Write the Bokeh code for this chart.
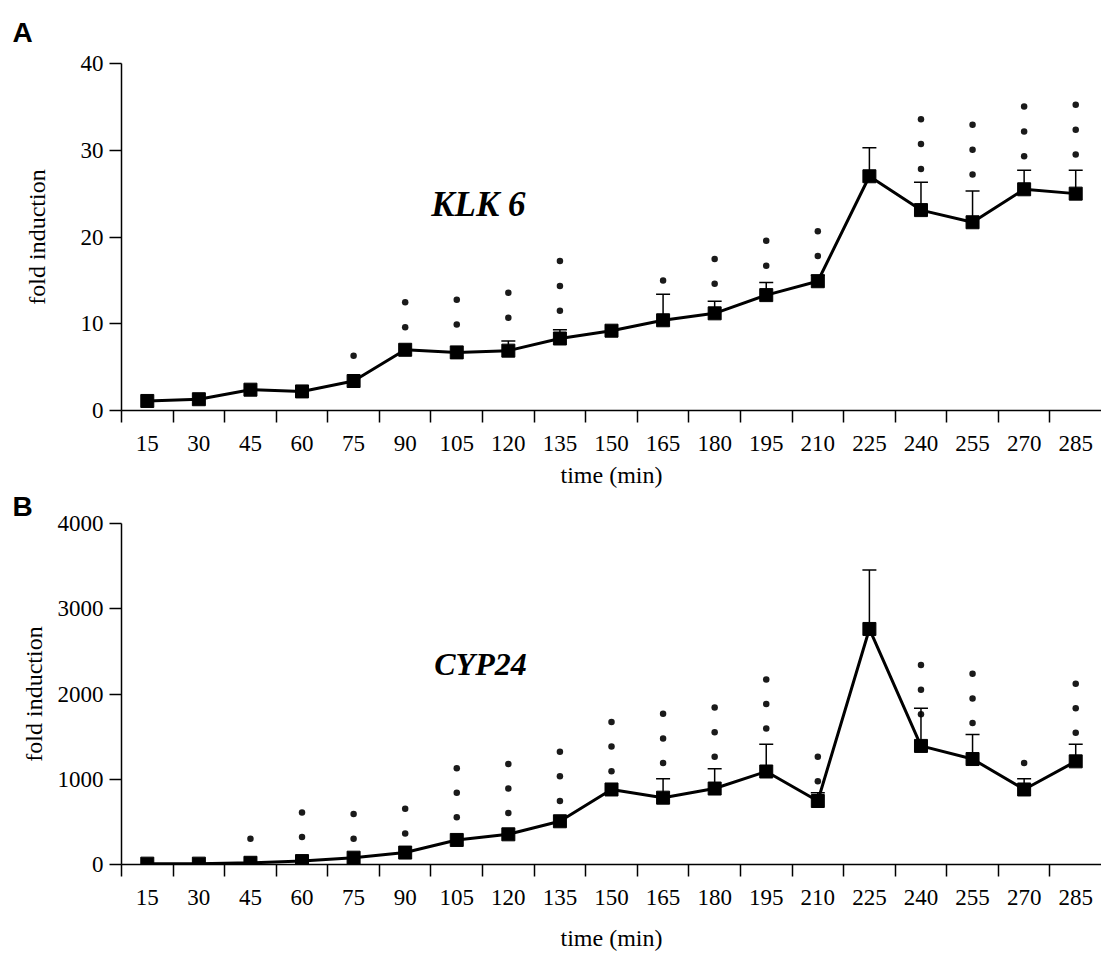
from bokeh.plotting import figure
from bokeh.models import Range1d, FixedTicker, Whisker, TeeHead, Label, ColumnDataSource, Title
from bokeh.layouts import column
from bokeh.embed import file_html
from bokeh.resources import INLINE

# ---------------- data ----------------
times = [15, 30, 45, 60, 75, 90, 105, 120, 135, 150, 165, 180, 195, 210, 225, 240, 255, 270, 285]
time_labels = [str(t) for t in times]

klk6_values = [1.1, 1.3, 2.4, 2.2, 3.4, 7.0, 6.7, 6.9, 8.3, 9.2, 10.4, 11.2, 13.3, 14.9, 27.0, 23.1, 21.7, 25.5, 25.0]
klk6_err = [0, 0, 0, 0, 0, 0, 0, 1.1, 1.0, 0, 3.0, 1.4, 1.45, 0.7, 3.3, 3.2, 3.6, 2.2, 2.7]
klk6_star_count = [0, 0, 0, 0, 1, 2, 2, 2, 3, 0, 1, 2, 2, 2, 0, 3, 3, 3, 3]
klk6_star_first = [0, 0, 0, 0, 6.3, 9.6, 9.9, 10.7, 11.5, 0, 15.0, 14.6, 16.7, 17.8, 0, 27.85, 27.2, 29.3, 29.5]
klk6_yticks = [0, 10, 20, 30, 40]

cyp24_values = [10, 10, 20, 40, 80, 140, 288, 354, 507, 880, 784, 891, 1091, 745, 2763, 1391, 1237, 880, 1210]
cyp24_err = [0, 0, 0, 0, 0, 0, 0, 0, 0, 0, 222, 231, 319, 96, 692, 442, 288, 126, 200]
cyp24_star_count = [0, 0, 1, 2, 2, 2, 3, 3, 3, 3, 3, 3, 3, 2, 0, 3, 3, 1, 3]
cyp24_star_first = [0, 0, 303, 323, 303, 365, 553, 603, 746, 1095, 1191, 1264, 1594, 976, 0, 1763, 1660, 1191, 1545]
cyp24_yticks = [0, 1000, 2000, 3000, 4000]

SERIF = "Liberation Serif"
SANS = "Liberation Sans"


def make_panel(values, errs, star_count, star_first, yticks, gene, gene_pos, gene_size, letter,
               height, border_top, border_bottom, ylabel_standoff, xlabel_standoff, letter_standoff):
    ymax = yticks[-1]
    frame_h = height - border_top - border_bottom
    step = 25.0 * ymax / frame_h  # dot spacing of 25 px in data units
    half = (times[1] - times[0]) / 2.0

    p = figure(width=1101, height=height, output_backend="svg", toolbar_location=None,
               x_range=Range1d(times[0] - half, times[-1] + half),
               y_range=Range1d(0, ymax),
               min_border_left=121, min_border_right=0,
               min_border_top=border_top, min_border_bottom=border_bottom)
    p.outline_line_color = None
    p.xgrid.visible = False
    p.ygrid.visible = False
    p.background_fill_color = "white"
    p.border_fill_color = "white"

    # panel letter as a left-aligned title shifted to the page's left edge
    p.title = Title(text=letter, align="left", offset=-109, vertical_align="top",
                    standoff=letter_standoff, text_font=SANS, text_font_style="bold",
                    text_font_size="28px", text_color="black")

    # x axis: labels at centers, ticks at boundaries (minor ticks)
    xa = p.xaxis[0]
    xa.ticker = FixedTicker(ticks=times,
                            minor_ticks=[t - half for t in times])
    xa.major_label_overrides = {t: lab for t, lab in zip(times, time_labels)}
    xa.major_tick_out = 0
    xa.major_tick_in = 0
    xa.minor_tick_out = 12
    xa.minor_tick_in = 0
    xa.minor_tick_line_width = 1.5
    xa.axis_line_width = 1.5
    xa.major_label_text_font = SERIF
    xa.major_label_text_font_size = "23px"
    xa.major_label_text_color = "black"
    xa.major_label_standoff = 13
    xa.axis_label = "time (min)"
    xa.axis_label_text_font = SERIF
    xa.axis_label_text_font_size = "24px"
    xa.axis_label_text_font_style = "normal"
    xa.axis_label_text_color = "black"
    xa.axis_label_standoff = xlabel_standoff

    ya = p.yaxis[0]
    ya.ticker = FixedTicker(ticks=yticks, minor_ticks=[])
    ya.major_tick_out = 12
    ya.major_tick_in = 0
    ya.major_tick_line_width = 1.5
    ya.minor_tick_out = 0
    ya.minor_tick_in = 0
    ya.axis_line_width = 1.5
    ya.major_label_text_font = SERIF
    ya.major_label_text_font_size = "23px"
    ya.major_label_text_color = "black"
    ya.major_label_standoff = 6
    ya.axis_label = "fold induction"
    ya.axis_label_text_font = SERIF
    ya.axis_label_text_font_size = "24px"
    ya.axis_label_text_font_style = "normal"
    ya.axis_label_text_color = "black"
    ya.axis_label_standoff = ylabel_standoff

    # error bars (upper only)
    ex = [t for t, e in zip(times, errs) if e > 0]
    ev = [v for v, e in zip(values, errs) if e > 0]
    eu = [v + e for v, e in zip(values, errs) if e > 0]
    esrc = ColumnDataSource(data=dict(x=ex, lower=ev, upper=eu))
    w = Whisker(source=esrc, base="x", lower="lower", upper="upper",
                line_color="black", line_width=1.5, level="glyph",
                upper_head=TeeHead(size=14, line_width=1.5, line_color="black"),
                lower_head=None)
    p.add_layout(w)

    # main line and square markers
    p.line(times, values, line_color="black", line_width=3)
    p.scatter(times, values, marker="square", size=13, fill_color="black", line_color="black")

    # significance dots
    sx, sy = [], []
    for t, n, y0 in zip(times, star_count, star_first):
        for k in range(n):
            sx.append(t)
            sy.append(y0 + k * step)
    p.scatter(sx, sy, marker="circle", size=6.5, fill_color="#1a1a1a", line_color=None)

    # gene name
    p.add_layout(Label(x=gene_pos[0], y=gene_pos[1], text=gene, text_font=SERIF,
                       text_font_style="bold italic", text_font_size=gene_size,
                       text_align="center", text_baseline="middle", text_color="black"))
    return p


pA = make_panel(klk6_values, klk6_err, klk6_star_count, klk6_star_first, klk6_yticks,
                "KLK 6", (111.3, 23.8), "35px", "A", height=490, border_top=63, border_bottom=78,
                ylabel_standoff=28, xlabel_standoff=8, letter_standoff=28)
pB = make_panel(cyp24_values, cyp24_err, cyp24_star_count, cyp24_star_first, cyp24_yticks,
                "CYP24", (111.9, 2352), "32px", "B", height=463, border_top=32, border_bottom=84,
                ylabel_standoff=8, xlabel_standoff=17, letter_standoff=0)

layout = column(pA, pB)
open("out.html", "w").write(file_html(layout, INLINE))
